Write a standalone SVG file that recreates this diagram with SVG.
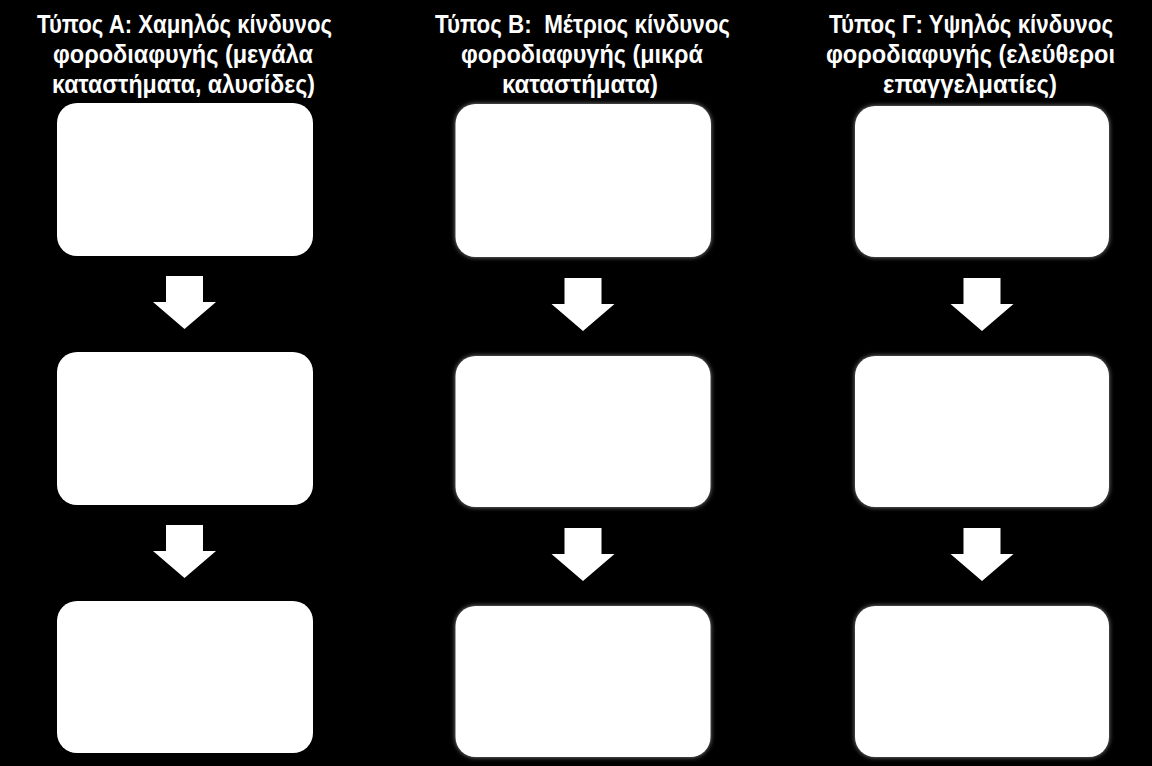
<svg xmlns="http://www.w3.org/2000/svg" width="1152" height="766" viewBox="0 0 1152 766">
  <defs>
    <style>
      .title { font-family: "Liberation Sans", "Noto Sans", Arial, sans-serif; font-weight: bold; font-size: 25px; fill: #ffffff; text-anchor: middle; }
      .box { fill: #ffffff; }
      .arrow { fill: #ffffff; }
    </style>
    <filter id="glow" x="-10%" y="-10%" width="120%" height="120%">
      <feGaussianBlur in="SourceAlpha" stdDeviation="2.5" result="b"/>
      <feFlood flood-color="#ffffff" flood-opacity="0.55"/>
      <feComposite in2="b" operator="in" result="g"/>
      <feMerge>
        <feMergeNode in="g"/>
        <feMergeNode in="SourceGraphic"/>
      </feMerge>
    </filter>
    <polygon id="arr" points="-18.5,0 18.5,0 18.5,26 31.5,26 0,53 -31.5,26 -18.5,26"/>
  </defs>
  <rect x="0" y="0" width="1152" height="766" fill="#000000"/>

  <g id="title-A">
    <text class="title" x="184.5" y="33" textLength="295" lengthAdjust="spacingAndGlyphs">Τύπος Α: Χαμηλός κίνδυνος</text>
    <text class="title" x="183" y="63" textLength="260" lengthAdjust="spacingAndGlyphs">φοροδιαφυγής (μεγάλα</text>
    <text class="title" x="183.5" y="93" textLength="263" lengthAdjust="spacingAndGlyphs">καταστήματα, αλυσίδες)</text>
  </g>
  <g id="title-B">
    <text class="title" x="582.5" y="33" textLength="295" lengthAdjust="spacingAndGlyphs">Τύπος Β:&#160; Μέτριος κίνδυνος</text>
    <text class="title" x="582" y="63" textLength="242" lengthAdjust="spacingAndGlyphs">φοροδιαφυγής (μικρά</text>
    <text class="title" x="580" y="93" textLength="156" lengthAdjust="spacingAndGlyphs">καταστήματα)</text>
  </g>
  <g id="title-C">
    <text class="title" x="971" y="33" textLength="284" lengthAdjust="spacingAndGlyphs">Τύπος Γ: Υψηλός κίνδυνος</text>
    <text class="title" x="970.5" y="63" textLength="289" lengthAdjust="spacingAndGlyphs">φοροδιαφυγής (ελεύθεροι</text>
    <text class="title" x="970" y="93" textLength="174" lengthAdjust="spacingAndGlyphs">επαγγελματίες)</text>
  </g>

  <g id="node-A1"><rect class="box" x="57" y="103" width="256" height="153" rx="20" ry="20"/></g>
  <g id="node-A2"><rect class="box" x="57" y="352" width="256" height="153" rx="20" ry="20"/></g>
  <g id="node-A3"><rect class="box" x="57" y="601" width="256" height="152" rx="20" ry="20"/></g>

  <g id="node-B1" filter="url(#glow)"><rect class="box" x="455.5" y="104" width="255.5" height="153" rx="20" ry="20"/></g>
  <g id="node-B2" filter="url(#glow)"><rect class="box" x="455.5" y="356" width="255" height="151" rx="20" ry="20"/></g>
  <g id="node-B3" filter="url(#glow)"><rect class="box" x="455.5" y="606" width="255" height="151" rx="20" ry="20"/></g>

  <g id="node-C1" filter="url(#glow)"><rect class="box" x="855" y="106" width="254" height="151" rx="20" ry="20"/></g>
  <g id="node-C2" filter="url(#glow)"><rect class="box" x="855" y="356" width="254" height="151" rx="20" ry="20"/></g>
  <g id="node-C3" filter="url(#glow)"><rect class="box" x="855" y="606" width="254" height="151" rx="20" ry="20"/></g>

  <g id="connectors">
    <use href="#arr" class="arrow" x="184.5" y="276"/>
    <use href="#arr" class="arrow" x="184.5" y="525"/>
    <use href="#arr" class="arrow" x="583" y="278"/>
    <use href="#arr" class="arrow" x="583" y="528"/>
    <use href="#arr" class="arrow" x="982" y="278"/>
    <use href="#arr" class="arrow" x="982" y="528"/>
  </g>
</svg>
